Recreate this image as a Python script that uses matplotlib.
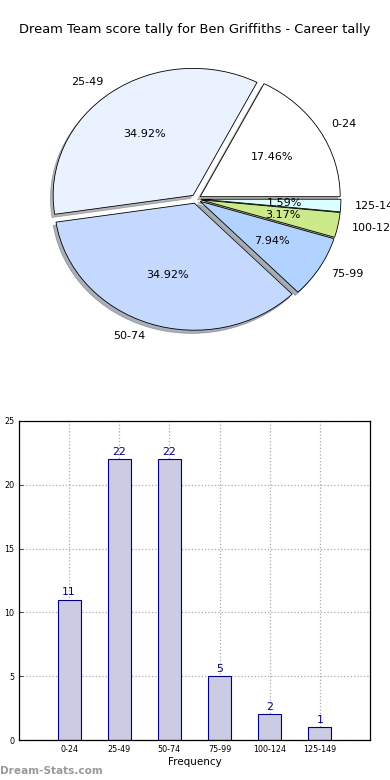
import matplotlib
matplotlib.use("Agg")
import matplotlib.pyplot as plt

categories = ["0-24", "25-49", "50-74", "75-99", "100-124", "125-149"]
counts = [11, 22, 22, 5, 2, 1]
pie_colors = ["#ffffff", "#eaf1ff", "#c5d9ff", "#b2d3ff", "#cdea8a", "#d9ffff"]
title = "Dream Team score tally for Ben Griffiths - Career tally"

W, H = 390, 780
fig = plt.figure(figsize=(W / 100, H / 100), dpi=100)

# ---- pie (slightly elliptical, as in the reference) ----
Rx, Ry = 140.0, 127.0
cx, cy = 196.0, 199.0
top_px, bot_px = 50.0, 350.0
axp = fig.add_axes([0, 1 - bot_px / H, 1, (bot_px - top_px) / H])
wedges, texts, autotexts = axp.pie(
    counts, labels=categories, colors=pie_colors, autopct="%.2f%%",
    explode=[0.035] * len(counts),
    shadow=dict(ox=-0.014, oy=-0.018, shade=0.55),
    startangle=0, counterclock=True, labeldistance=1.1, pctdistance=0.6,
    wedgeprops=dict(edgecolor="black", linewidth=0.6),
    textprops=dict(fontsize=8, color="black"))
axp.set_aspect("auto")
axp.set_xlim(-cx / Rx, (W - cx) / Rx)
axp.set_ylim(-(bot_px - cy) / Ry, (cy - top_px) / Ry)
fig.text(0.5, 1 - 30 / H, title, ha="center", va="center", fontsize=9.4)

# ---- bars ----
axb = fig.add_axes([19 / W, 1 - 740 / H, (370 - 19) / W, (740 - 421) / H])
x = list(range(len(categories)))
bars = axb.bar(x, counts, width=0.46, color="#cbcbe3", edgecolor="#000080",
               linewidth=0.8, zorder=2)
for xi, c in zip(x, counts):
    axb.text(xi, c + 0.2, str(c), ha="center", va="bottom", color="#000080",
             fontsize=7.8, zorder=3)
axb.set_xlim(-1, 6)
axb.set_ylim(0, 25)
axb.set_xticks(x)
axb.set_xticklabels(categories, fontsize=5.8)
axb.set_yticks([0, 5, 10, 15, 20, 25])
axb.tick_params(axis="y", labelsize=5.8, direction="in", length=3, width=0.5)
axb.tick_params(axis="x", direction="in", length=3, width=0.5)
axb.grid(True, linestyle=":", color="#aaaaaa", linewidth=0.9, zorder=0)
axb.set_axisbelow(True)
for s in axb.spines.values():
    s.set_linewidth(0.9)
axb.set_xlabel("Frequency", fontsize=7.5, labelpad=2)
axb.set_ylabel("Number of Games", fontsize=6)
axb.yaxis.set_label_coords(-0.062, 0.5)

fig.text(0 / W, 1 - 771 / H, "Dream-Stats.com", ha="left", va="center",
         fontsize=7.6, color="#999999", fontweight="bold")

fig.savefig("out.png", dpi=100)
